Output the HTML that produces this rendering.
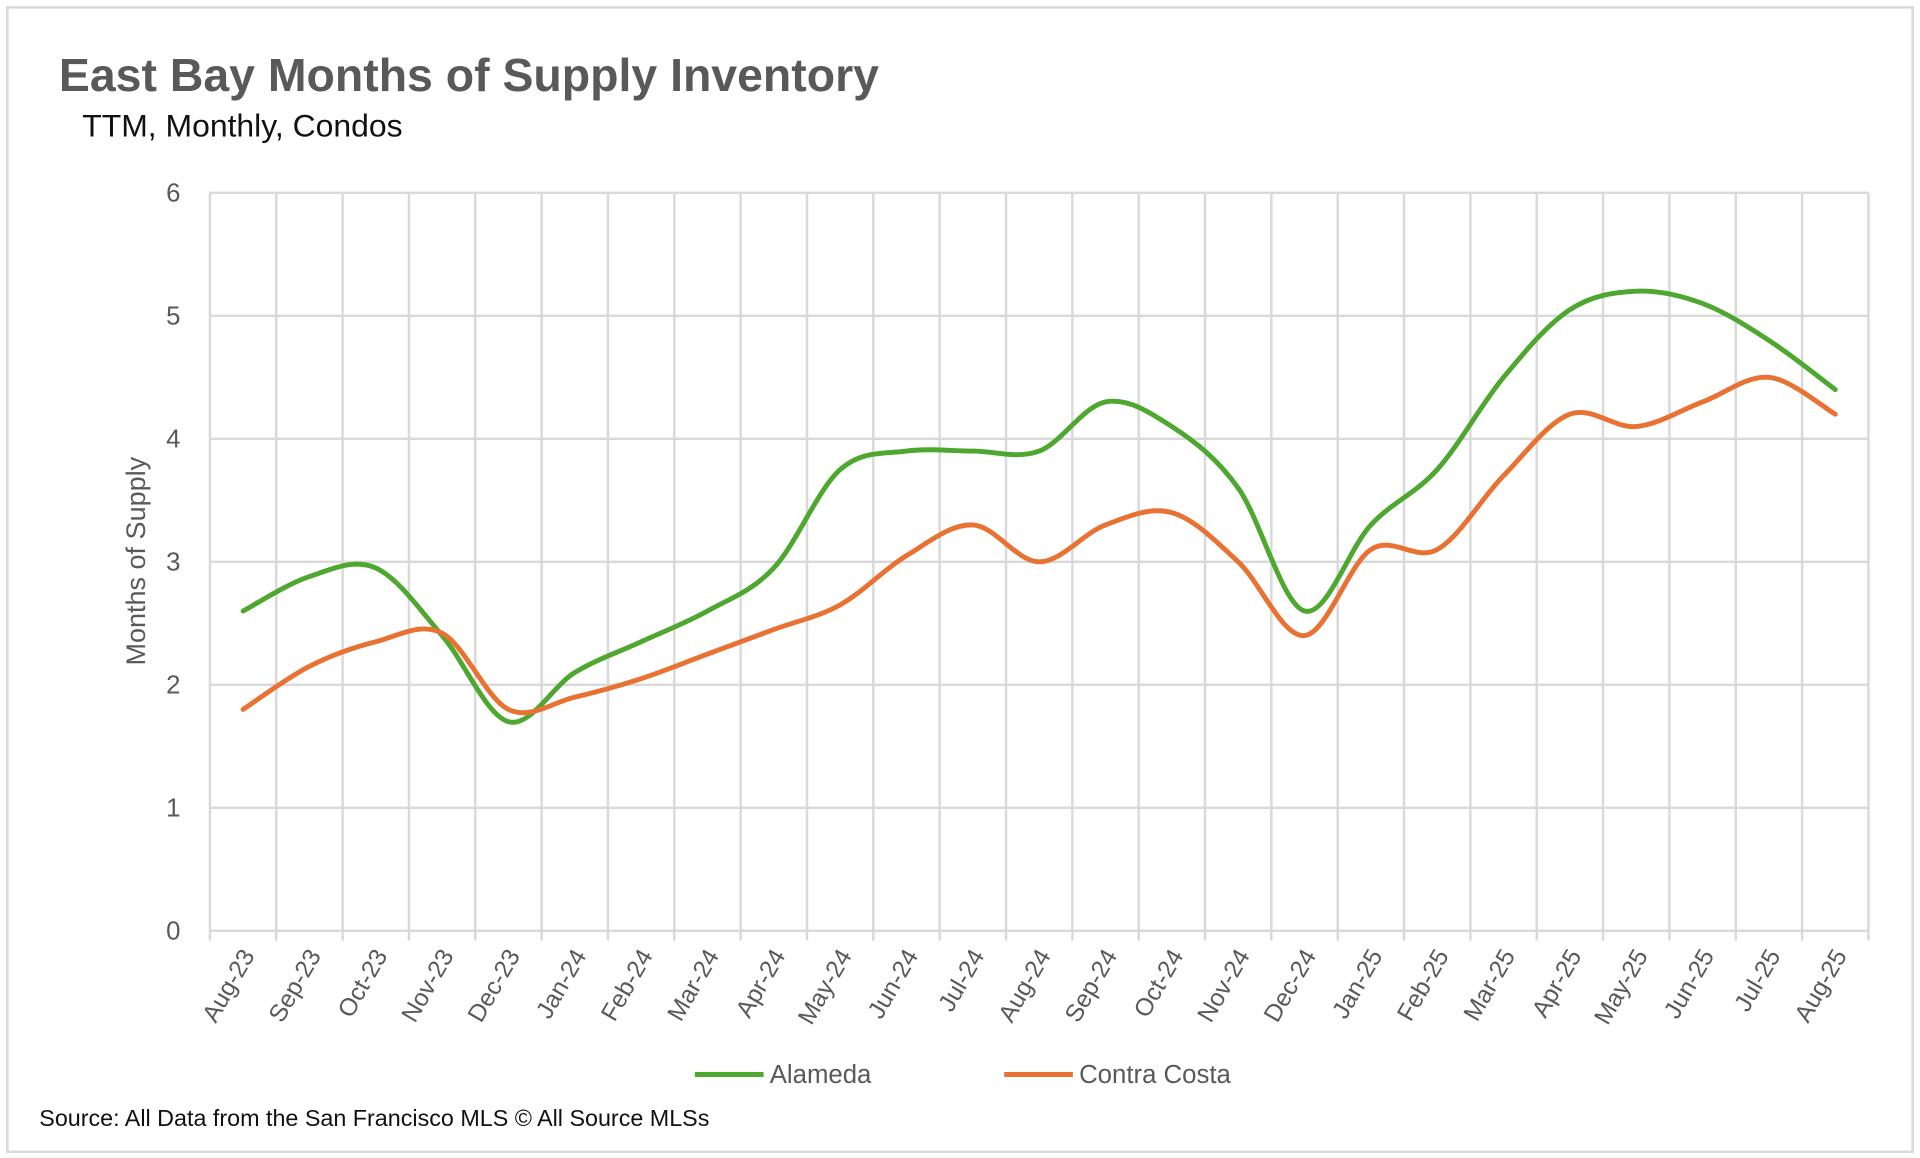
<!DOCTYPE html>
<html><head><meta charset="utf-8"><style>
html,body{margin:0;padding:0;background:#fff;}
svg{display:block;font-family:"Liberation Sans",sans-serif;}
</style></head><body>
<svg id="chart" width="1920" height="1158" viewBox="0 0 1564 943" preserveAspectRatio="none" xmlns="http://www.w3.org/2000/svg">
<rect x="6" y="6" width="1552" height="932" fill="#fff" stroke="#d9d9d9" stroke-width="2"/>
<text x="48" y="74" font-size="38" font-weight="bold" fill="#595959" textLength="668" lengthAdjust="spacingAndGlyphs">East Bay Months of Supply Inventory</text>
<text x="67" y="111" font-size="26" fill="#111">TTM, Monthly, Condos</text>
<g id="grid"></g>
<g id="series"></g>
<text transform="translate(118,457) rotate(-90)" text-anchor="middle" font-size="22" fill="#595959">Months of Supply</text>
<g>
<line x1="566" y1="875" x2="622" y2="875" stroke="#4ea72e" stroke-width="4"/>
<text x="627" y="882" font-size="21" fill="#595959">Alameda</text>
<line x1="818" y1="875" x2="874" y2="875" stroke="#e97132" stroke-width="4"/>
<text x="879" y="882" font-size="21" fill="#595959">Contra Costa</text>
</g>
<text x="32" y="917" font-size="19" fill="#111">Source: All Data from the San Francisco MLS © All Source MLSs</text>
</svg>
<script>
const categories=["Aug-23","Sep-23","Oct-23","Nov-23","Dec-23","Jan-24","Feb-24","Mar-24","Apr-24","May-24","Jun-24","Jul-24","Aug-24","Sep-24","Oct-24","Nov-24","Dec-24","Jan-25","Feb-25","Mar-25","Apr-25","May-25","Jun-25","Jul-25","Aug-25"];
const alameda=[2.6,2.88,2.95,2.4,1.7,2.1,2.35,2.6,2.95,3.75,3.9,3.9,3.9,4.3,4.1,3.6,2.6,3.3,3.75,4.5,5.05,5.2,5.1,4.8,4.4];
const contraCosta=[1.8,2.15,2.35,2.42,1.8,1.9,2.05,2.25,2.45,2.65,3.05,3.3,3.0,3.3,3.4,3.0,2.4,3.1,3.1,3.7,4.2,4.1,4.3,4.5,4.2];
const yTicks=[0,1,2,3,4,5,6];
const NS="http://www.w3.org/2000/svg";
const L=171,R=1522,T=157,B=758,yMax=6;
const band=(R-L)/categories.length;
function xs(i){return L+band*(i+0.5);}
function ys(v){return B-(v/yMax)*(B-T);}
function mk(tag,attrs,parent){const e=document.createElementNS(NS,tag);for(const k in attrs)e.setAttribute(k,attrs[k]);parent.appendChild(e);return e;}
const grid=document.getElementById('grid');
yTicks.forEach(t=>{
  const l=mk('line',{x1:L,x2:R,y1:ys(t),y2:ys(t),stroke:'#d9d9d9','stroke-width':2},grid);
  
  
  const tx=mk('text',{x:L-24,y:ys(t)+7,'text-anchor':'end','font-size':21,fill:'#595959'},grid);
  tx.textContent=t;
  
  
});
for(let i=0;i<=categories.length;i++){
  const x=L+band*i;
  const l=mk('line',{x1:x,x2:x,y1:T,y2:B+8,stroke:'#d9d9d9','stroke-width':2},grid);
  
  
}
categories.forEach((c,i)=>{
  const x=xs(i)+10,y=B+20;
  const tx=mk('text',{transform:`translate(${x},${y}) rotate(-60)`,'text-anchor':'end','font-size':20,fill:'#595959'},grid);
  tx.textContent=c;
  
  
});
function path(vals){
  const p=vals.map((v,i)=>[xs(i),ys(v)]);
  let d=`M${p[0][0]},${p[0][1]}`;
  const t=1/6;
  for(let i=0;i<p.length-1;i++){
    const p0=p[Math.max(0,i-1)],p1=p[i],p2=p[i+1],p3=p[Math.min(p.length-1,i+2)];
    const c1=[p1[0]+(p2[0]-p0[0])*t,p1[1]+(p2[1]-p0[1])*t];
    const c2=[p2[0]-(p3[0]-p1[0])*t,p2[1]-(p3[1]-p1[1])*t];
    d+=` C${c1[0]},${c1[1]} ${c2[0]},${c2[1]} ${p2[0]},${p2[1]}`;
  }
  return d;
}
const sg=document.getElementById('series');
const a=mk('path',{d:path(alameda),fill:'none',stroke:'#4ea72e','stroke-width':4,'stroke-linecap':'round'},sg);


const c=mk('path',{d:path(contraCosta),fill:'none',stroke:'#e97132','stroke-width':4,'stroke-linecap':'round'},sg);


</script>
</body></html>
